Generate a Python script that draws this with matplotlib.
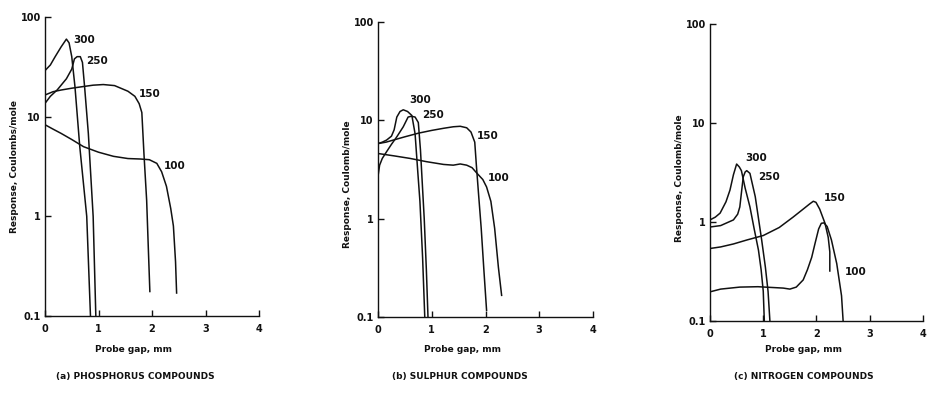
import matplotlib
matplotlib.use("Agg")
import matplotlib.pyplot as plt
from matplotlib.ticker import FixedLocator, NullLocator

plt.rcParams["font.family"] = ["DejaVu Sans"]
plt.rcParams["font.weight"] = "bold"

# ---- data (x = probe gap mm, y = response) ----
temps = ["300", "250", "150", "100"]

# (a) phosphorus
a300_x = [0, 0.10, 0.19, 0.30, 0.40, 0.45, 0.50, 0.56, 0.65, 0.78, 0.85]
a300_y = [29, 33, 40, 50, 60, 55, 40, 20, 5, 1, 0.1]
a250_x = [0, 0.10, 0.23, 0.40, 0.50, 0.55, 0.60, 0.66, 0.70, 0.74, 0.81, 0.90, 0.95]
a250_y = [13.6, 16, 18.6, 24, 30, 38, 40, 40, 35, 20, 6.8, 1, 0.1]
a150_x = [0, 0.15, 0.3, 0.5, 0.7, 0.9, 1.09, 1.3, 1.55, 1.68, 1.76, 1.81, 1.85, 1.90, 1.93, 1.96]
a150_y = [16.5, 17.8, 18.5, 19.3, 20, 20.7, 21, 20.5, 18, 16, 13.5, 11, 4.2, 1.45, 0.5, 0.176]
a100_x = [0, 0.15, 0.3, 0.5, 0.72, 1.0, 1.28, 1.55, 1.78, 1.95, 2.09, 2.18, 2.27, 2.35, 2.40, 2.44, 2.46]
a100_y = [8.3, 7.5, 6.8, 5.9, 5.0, 4.4, 4.0, 3.8, 3.76, 3.7, 3.4, 2.8, 2.0, 1.2, 0.8, 0.35, 0.17]

# (b) sulphur
b300_x = [0, 0.08, 0.16, 0.25, 0.30, 0.35, 0.41, 0.47, 0.55, 0.63, 0.69, 0.74, 0.78, 0.83, 0.87]
b300_y = [5.8, 6.0, 6.3, 6.9, 8.0, 10.8, 12.3, 12.8, 12.3, 11.2, 7.3, 3.0, 1.5, 0.4, 0.1]
b250_x = [0, 0.03, 0.08, 0.16, 0.25, 0.35, 0.47, 0.56, 0.62, 0.69, 0.75, 0.79, 0.82, 0.86, 0.90, 0.93]
b250_y = [2.7, 3.5, 4.1, 4.8, 5.7, 6.8, 8.6, 10.8, 11, 10.8, 9.5, 5, 2.5, 1.0, 0.3, 0.1]
b150_x = [0, 0.15, 0.285, 0.5, 0.75, 1.0, 1.22, 1.4, 1.53, 1.65, 1.73, 1.80, 1.83, 1.87, 1.92, 1.97, 2.02]
b150_y = [5.8, 6.0, 6.3, 6.8, 7.4, 7.9, 8.3, 8.6, 8.7, 8.4, 7.6, 6.0, 3.5, 1.8, 0.8, 0.3, 0.117]
b100_x = [0, 0.3, 0.595, 0.9, 1.22, 1.4, 1.53, 1.65, 1.75, 1.84, 1.95, 2.02, 2.10, 2.17, 2.24, 2.30]
b100_y = [4.6, 4.35, 4.1, 3.8, 3.56, 3.5, 3.6, 3.5, 3.3, 2.9, 2.5, 2.1, 1.5, 0.8, 0.32, 0.166]

# (c) nitrogen
c300_x = [0, 0.1, 0.19, 0.3, 0.375, 0.44, 0.5, 0.55, 0.59, 0.66, 0.75, 0.83, 0.91, 0.96, 1.0, 1.02]
c300_y = [1.05, 1.12, 1.23, 1.6, 2.1, 3.0, 3.85, 3.6, 3.3, 2.2, 1.42, 0.85, 0.52, 0.33, 0.2, 0.1]
c250_x = [0, 0.2, 0.44, 0.52, 0.56, 0.60, 0.625, 0.66, 0.69, 0.75, 0.85, 0.97, 1.04, 1.09, 1.125]
c250_y = [0.89, 0.92, 1.05, 1.2, 1.42, 2.2, 2.86, 3.2, 3.3, 3.1, 1.8, 0.66, 0.35, 0.2, 0.1]
c150_x = [0, 0.2, 0.44, 0.7, 1.0, 1.3, 1.56, 1.75, 1.87, 1.94, 1.99, 2.06, 2.16, 2.22, 2.25, 2.25]
c150_y = [0.54, 0.56, 0.6, 0.66, 0.73, 0.88, 1.12, 1.35, 1.52, 1.62, 1.58, 1.35, 0.97, 0.7, 0.5, 0.32]
c100_x = [0, 0.2, 0.56, 0.9, 1.375, 1.5, 1.62, 1.75, 1.83, 1.91, 1.97, 2.04, 2.09, 2.14, 2.20, 2.28, 2.38, 2.47, 2.5]
c100_y = [0.197, 0.21, 0.22, 0.222, 0.215, 0.21, 0.22, 0.26, 0.33, 0.44, 0.6, 0.85, 0.97, 0.98, 0.9, 0.66, 0.38, 0.18, 0.1]

# curve label anchors (x, y) per panel, same order as temps
a_lab = [(0.52, 59), (0.77, 36), (1.76, 17), (2.22, 3.2)]
b_lab = [(0.58, 16), (0.83, 11.2), (1.84, 7.0), (2.05, 2.6)]
c_lab = [(0.66, 4.4), (0.91, 2.86), (2.14, 1.73), (2.53, 0.31)]

ylabels = ["Response, Coulombs/mole", "Response, Coulomb/mole", "Response, Coulomb/mole"]
titles = ["(a) PHOSPHORUS COMPOUNDS", "(b) SULPHUR COMPOUNDS", "(c) NITROGEN COMPOUNDS"]
yticks = [0.1, 1, 10, 100]
yticklabels = ["0.1", "1", "10", "100"]
xticks = [0, 1, 2, 3, 4]

panels = [
    ([(a300_x, a300_y), (a250_x, a250_y), (a150_x, a150_y), (a100_x, a100_y)], a_lab),
    ([(b300_x, b300_y), (b250_x, b250_y), (b150_x, b150_y), (b100_x, b100_y)], b_lab),
    ([(c300_x, c300_y), (c250_x, c250_y), (c150_x, c150_y), (c100_x, c100_y)], c_lab),
]

W, H = 928, 395
fig = plt.figure(figsize=(W / 100, H / 100), dpi=100)

# axes boxes in pixels: left, top, right, bottom
boxes = [(45, 17, 259, 316), (378, 22, 593, 317), (710, 24, 923, 321)]
label_cx = [134, 463, 804]
title_cx = [135, 460, 804]
ylab_y = [0.5, 0.45, 0.48]

ink = "#111111"

for i, ((curves, labs), box) in enumerate(zip(panels, boxes)):
    l, t, r, b = box
    ax = fig.add_axes([l / W, 1 - b / H, (r - l) / W, (b - t) / H])
    for (xs, ys) in curves:
        ax.plot(xs, ys, color=ink, lw=1.1, solid_joinstyle="round")
    for name, (lx, ly) in zip(temps, labs):
        ax.text(lx, ly, name, fontsize=7.5, fontweight="bold", ha="left", va="center",
                color=ink)
    ax.set_yscale("log")
    ax.set_ylim(0.1, 100)
    ax.set_xlim(0, 4)
    ax.yaxis.set_major_locator(FixedLocator(yticks))
    ax.yaxis.set_minor_locator(NullLocator())
    ax.set_yticklabels(yticklabels)
    ax.set_xticks(xticks)
    ax.spines["top"].set_visible(False)
    ax.spines["right"].set_visible(False)
    for s in ("left", "bottom"):
        ax.spines[s].set_color(ink)
        ax.spines[s].set_linewidth(1.0)
    ax.tick_params(direction="in", length=4, width=1.0, colors=ink, labelsize=7)
    ax.tick_params(axis="x", pad=6)
    ax.tick_params(axis="y", pad=3)
    ax.set_ylabel(ylabels[i], fontsize=6.5, fontweight="bold", labelpad=1, color=ink)
    ax.yaxis.label.set_y(ylab_y[i])
    for lab in ax.get_xticklabels() + ax.get_yticklabels():
        lab.set_fontweight("bold")
    fig.text(label_cx[i] / W, 1 - 349 / H, "Probe gap, mm", fontsize=6.5,
             fontweight="bold", ha="center", va="center", color=ink)
    fig.text(title_cx[i] / W, 1 - 377 / H, titles[i], fontsize=6.5,
             fontweight="bold", ha="center", va="center", color=ink)

fig.savefig("out.png", dpi=100, facecolor="white")
